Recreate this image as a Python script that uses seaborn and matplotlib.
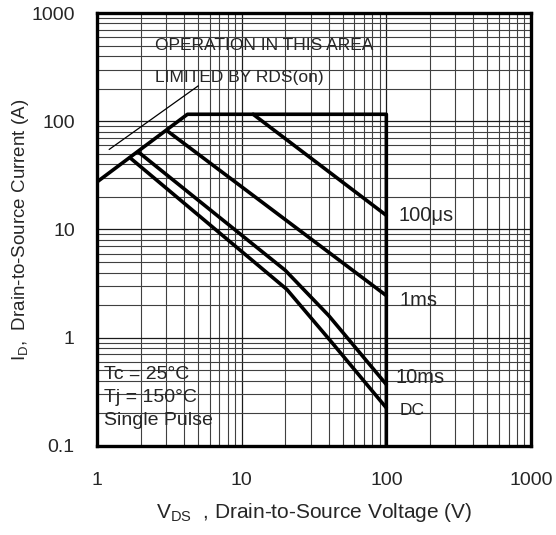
import matplotlib

matplotlib.use("Agg")
import matplotlib.pyplot as plt
import matplotlib.ticker as mticker
import pandas as pd
import seaborn as sns

# safe operating area curves (VDS in V, ID in A)
limit_v = [1, 4.22, 100, 100]
limit_i = [27.5, 116, 116, 0.1]
us100_v = [12, 100]
us100_i = [116, 13.5]
ms1_v = [3.04, 100]
ms1_i = [82, 2.45]
ms10_v = [1.93, 20, 40, 100]
ms10_i = [52, 4.2, 1.6, 0.37]
dc_v = [1.69, 20.5, 41, 100]
dc_i = [46, 2.8, 0.94, 0.225]

curve_names = ["limit", "100us", "1ms", "10ms", "DC"]
x_ticks = [1, 10, 100, 1000]
x_tick_labels = ["1", "10", "100", "1000"]
y_ticks = [0.1, 1, 10, 100, 1000]
y_tick_labels = ["0.1", "1", "10", "100", "1000"]

frames = []
for name, vs, cs in zip(
    curve_names,
    [limit_v, us100_v, ms1_v, ms10_v, dc_v],
    [limit_i, us100_i, ms1_i, ms10_i, dc_i],
):
    frames.append(pd.DataFrame({"vds": vs, "id": cs, "curve": name, "order": range(len(vs))}))
df = pd.concat(frames, ignore_index=True)

sns.set_style("white")
plt.rcParams["font.family"] = ["Liberation Sans", "DejaVu Sans"]
plt.rcParams["mathtext.fontset"] = "custom"
plt.rcParams["mathtext.rm"] = "Liberation Sans"

fig = plt.figure(figsize=(5.56, 5.35), dpi=100)
ax = fig.add_axes([0.1745, 0.1664, 0.7805, 0.8093])
ax.set_xscale("log")
ax.set_yscale("log")
ax.set_xlim(1, 1000)
ax.set_ylim(0.1, 1000)

ax.xaxis.set_minor_locator(mticker.LogLocator(base=10, subs=range(2, 10), numticks=20))
ax.yaxis.set_minor_locator(mticker.LogLocator(base=10, subs=range(2, 10), numticks=20))
ax.grid(True, which="major", color="0.1", linewidth=0.9)
ax.grid(True, which="minor", color="0.25", linewidth=0.8)
ax.set_axisbelow(True)

sns.lineplot(
    data=df,
    x="vds",
    y="id",
    units="curve",
    estimator=None,
    sort=False,
    color="black",
    linewidth=2.6,
    legend=False,
    ax=ax,
)

# pointer from the note to the RDS(on) line
ax.annotate(
    "",
    xy=(1.17, 53),
    xytext=(5.2, 220),
    arrowprops=dict(arrowstyle="-", color="black", linewidth=0.9),
)

ax.text(0.134, 0.924, "OPERATION IN THIS AREA", transform=ax.transAxes,
        fontsize=12.5, va="center", ha="left")
ax.text(0.134, 0.852, "LIMITED BY RDS(on)", transform=ax.transAxes,
        fontsize=12.5, va="center", ha="left")

ax.text(0.694, 0.533, "100\u03bcs", transform=ax.transAxes, fontsize=14.5, va="center")
ax.text(0.697, 0.337, "1ms", transform=ax.transAxes, fontsize=14.5, va="center")
ax.text(0.687, 0.157, "10ms", transform=ax.transAxes, fontsize=14.5, va="center")
ax.text(0.697, 0.083, "DC", transform=ax.transAxes, fontsize=12.5, va="center")

ax.text(0.016, 0.164, "Tc = 25\u00b0C", transform=ax.transAxes, fontsize=14, va="center")
ax.text(0.016, 0.111, "Tj = 150\u00b0C", transform=ax.transAxes, fontsize=14, va="center")
ax.text(0.016, 0.058, "Single Pulse", transform=ax.transAxes, fontsize=14, va="center")

ax.set_xticks(x_ticks)
ax.set_xticklabels(x_tick_labels)
ax.set_yticks(y_ticks)
ax.set_yticklabels(y_tick_labels)
ax.tick_params(axis="both", which="both", length=0, labelsize=14)
ax.tick_params(axis="x", pad=18.5)
ax.tick_params(axis="y", pad=16)

ax.set_xlabel(r"$\mathregular{V_{DS}}$  , Drain-to-Source Voltage (V)", fontsize=15, labelpad=9)
ax.set_ylabel(r"$\mathregular{I_{D}}$,  Drain-to-Source Current (A)", fontsize=13.5, labelpad=0)

for spine in ax.spines.values():
    spine.set_visible(True)
    spine.set_color("black")
    spine.set_linewidth(2.4)

fig.savefig("out.png", dpi=100)
plt.close(fig)
